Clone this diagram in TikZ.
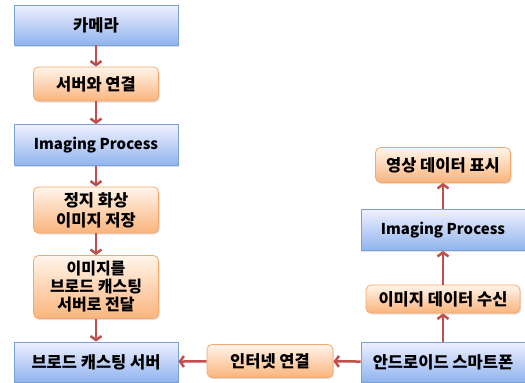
\documentclass[tikz,border=0pt]{standalone}
\usepackage{fontspec}
\setmainfont{Noto Sans CJK KR}
\usepackage{tikz}
\usetikzlibrary{arrows.meta, shadows}
\definecolor{boxblue}{RGB}{143, 180, 238}
\definecolor{boxblueline}{RGB}{122, 160, 214}
\definecolor{boxorange}{RGB}{250, 180, 124}
\definecolor{boxorangeline}{RGB}{244, 170, 110}
\definecolor{arrowred}{RGB}{192, 80, 77}

\begin{document}
\begin{tikzpicture}[
  x=1pt, y=-1pt,
  bluebox/.style={draw=boxblueline, line width=0.8pt, top color=blue!6!white, bottom color=boxblue, minimum width=164pt, minimum height=40pt, inner sep=1pt, font=\bfseries\fontsize{16.5}{19}\selectfont, drop shadow={opacity=0.25, shadow xshift=1pt, shadow yshift=-1.5pt}},
  orangebox/.style={draw=boxorangeline, line width=0.8pt, rounded corners=5pt, top color=orange!8!white, bottom color=boxorange, minimum width=125pt, minimum height=34pt, inner sep=1pt, align=center, font=\bfseries\fontsize{16.5}{20}\selectfont, drop shadow={opacity=0.25, shadow xshift=1pt, shadow yshift=-1.5pt}},
  latin/.style={font=\bfseries\fontsize{15}{19}\selectfont},
  flow/.style={draw=arrowred, line width=2.5pt, -{Straight Barb[length=4pt, width=11pt]}}
]
\useasboundingbox (0,0) rectangle (525,383);

% left column
\node[bluebox] (camera) at (96,25) {카메라};
\node[orangebox] (connect) at (96,84) {서버와 연결};
\node[bluebox, latin, minimum height=41pt] (procL) at (96,145) {Imaging Process};
\node[orangebox, minimum height=46pt] (still) at (96,210) {정지 화상\\이미지 저장};
\node[orangebox, minimum height=63pt, font=\bfseries\fontsize{16}{18}\selectfont] (send) at (96,287) {이미지를\\브로드 캐스팅\\서버로 전달};
\node[bluebox] (server) at (96,362) {브로드 캐스팅 서버};

% bottom / right column
\node[orangebox, minimum width=126pt, minimum height=33pt] (internet) at (270,361) {인터넷 연결};
\node[bluebox] (phone) at (443,362) {안드로이드 스마트폰};
\node[orangebox, minimum width=154pt, minimum height=28pt] (receive) at (443,299) {이미지 데이터 수신};
\node[bluebox, latin, minimum height=41pt] (procR) at (443,230) {Imaging Process};
\node[orangebox, minimum width=135pt, minimum height=35pt] (display) at (443,165) {영상 데이터 표시};

% arrows
\draw[flow] (camera) -- (connect);
\draw[flow] (connect) -- (procL);
\draw[flow] (procL) -- (still);
\draw[flow] (still) -- (send);
\draw[flow] (send) -- (server);
\draw[flow] (internet) -- (server);
\draw[flow] (phone) -- (internet);
\draw[flow] (phone) -- (receive);
\draw[flow] (receive) -- (procR);
\draw[flow] (procR) -- (display);

\end{tikzpicture}
\end{document}
